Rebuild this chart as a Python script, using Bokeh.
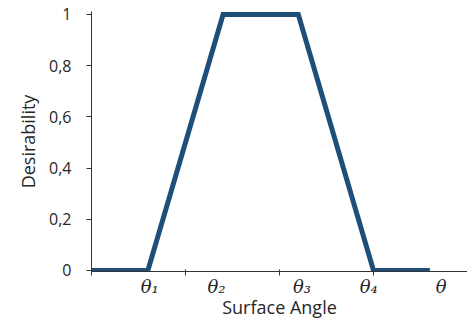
from bokeh.plotting import figure
from bokeh.models import FixedTicker, Range1d
from bokeh.embed import file_html
from bokeh.resources import INLINE

# data (x in arbitrary angle units, y = desirability)
angle = [0.0, 0.6, 1.4, 2.2, 3.0, 3.6]
desirability = [0, 0, 1, 1, 0, 0]
theta_pos = [0.62, 1.33, 2.24, 2.95, 3.72]
theta_labels = ["θ₁", "θ₂", "θ₃", "θ₄", "θ"]
boundary_ticks = [0, 1, 2, 3, 4]
y_ticks = [0, 0.2, 0.4, 0.6, 0.8, 1.0]
y_tick_labels = ["0", "0,2", "0,4", "0,6", "0,8", "1"]

p = figure(width=467, height=322, output_backend="svg", toolbar_location=None,
           x_range=Range1d(0, 4.0), y_range=Range1d(-0.004, 1.0117),
           min_border_left=91, min_border_right=0, min_border_top=11, min_border_bottom=51)
p.outline_line_color = None
p.xgrid.visible = False
p.ygrid.visible = False
p.background_fill_color = "white"

p.line(angle, desirability, line_width=5, line_color="#1F4E79", line_join="miter")

axis_color = "#333333"
text_color = "#262626"

# x axis
xa = p.xaxis[0]
xa.ticker = FixedTicker(ticks=theta_pos, minor_ticks=boundary_ticks)
xa.major_label_overrides = {v: l for v, l in zip(theta_pos, theta_labels)}
xa.major_tick_in = 0
xa.major_tick_out = 0
xa.minor_tick_in = 2
xa.minor_tick_out = 4
xa.minor_tick_line_color = axis_color
xa.axis_line_color = axis_color
xa.major_label_text_font = "DejaVu Serif"
xa.major_label_text_font_style = "italic"
xa.major_label_text_font_size = "18px"
xa.major_label_text_color = text_color
xa.major_label_standoff = 0
xa.axis_label = "Surface Angle"
xa.axis_label_text_font = "Open Sans"
xa.axis_label_text_font_style = "normal"
xa.axis_label_text_font_size = "18px"
xa.axis_label_text_color = text_color
xa.axis_label_standoff = -5

# y axis
ya = p.yaxis[0]
ya.ticker = FixedTicker(ticks=y_ticks, minor_ticks=[])
ya.major_label_overrides = {v: l for v, l in zip(y_ticks, y_tick_labels)}
ya.major_tick_in = 0
ya.major_tick_out = 5
ya.major_tick_line_color = axis_color
ya.axis_line_color = axis_color
ya.major_label_text_font = "Open Sans"
ya.major_label_text_font_size = "16px"
ya.major_label_text_color = text_color
ya.major_label_standoff = 15
ya.axis_label = "Desirability"
ya.axis_label_text_font = "Open Sans"
ya.axis_label_text_font_style = "normal"
ya.axis_label_text_font_size = "18px"
ya.axis_label_text_color = text_color
ya.axis_label_standoff = 6

open("out.html", "w").write(file_html(p, INLINE))
